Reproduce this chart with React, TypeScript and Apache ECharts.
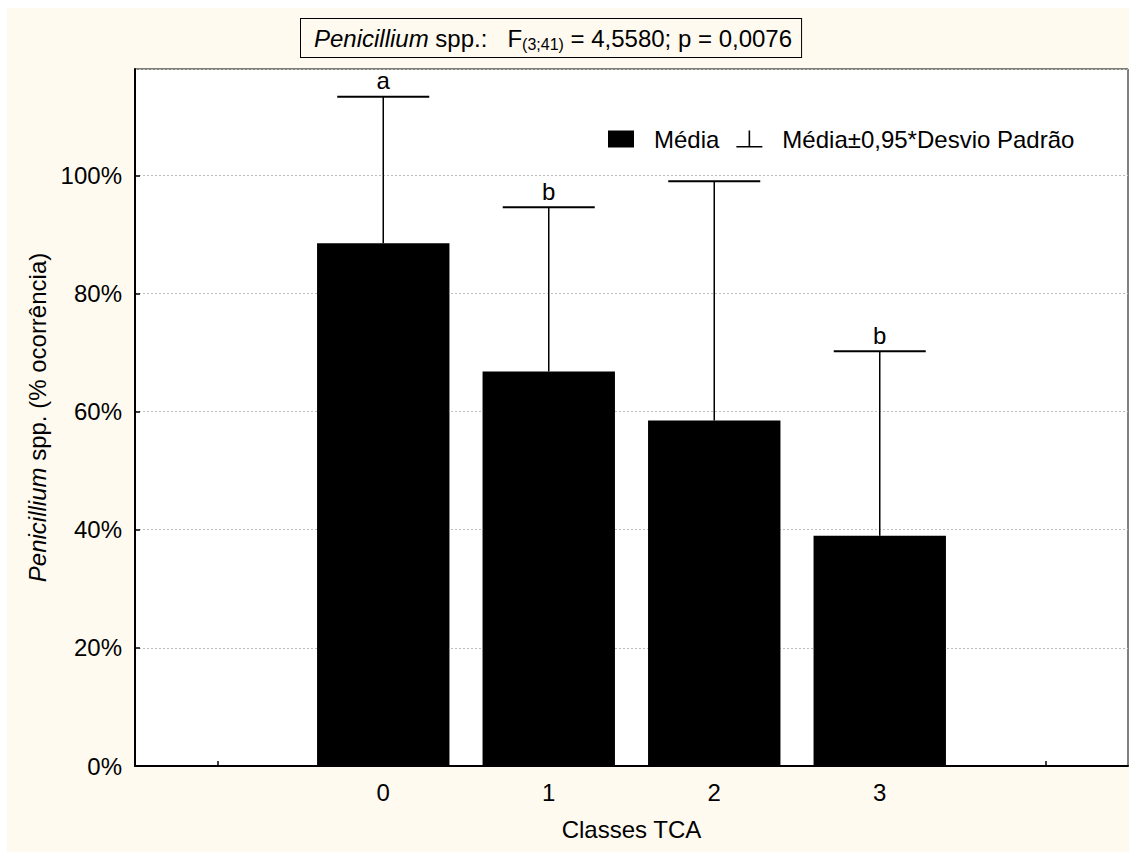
import React, { useEffect, useRef } from "react";
import * as echarts from "echarts";

const classes = ["0", "1", "2", "3"];
const means = [88.5, 66.8, 58.5, 39.0];
const upperLimits = [113.3, 94.6, 99.0, 70.2];
const letters = ["a", "b", "", "b"];
const yMax = 118;
const yInterval = 20;

const FONT = 'Arial, "Liberation Sans", sans-serif';
const FS = 24;

export default function App() {
  const ref = useRef<HTMLDivElement>(null);

  useEffect(() => {
    document.body.style.overflow = "hidden";
    const chart = echarts.init(ref.current!, null, { renderer: "svg" });

    const axisCats = ["", ...classes, ""];
    const barData: (number | null)[] = [null, ...means, null];
    const errData = classes.map((c, i) => [i + 1, means[i], upperLimits[i]]);

    const option: any = {
      animation: false,
      backgroundColor: "#FFFAF0",
      textStyle: { fontFamily: FONT, color: "#000" },
      grid: {
        left: 128,
        right: 1,
        top: 61,
        bottom: 86,
        show: true,
        backgroundColor: "#ffffff",
        borderColor: "#000",
        borderWidth: 1,
      },
      legend: {
        left: 596,
        top: 114,
        itemGap: 17,
        itemWidth: 26,
        itemHeight: 17,
        textStyle: { fontSize: FS, color: "#000", fontFamily: FONT, padding: [0, 0, 0, 15] },
        data: [
          { name: "Média", icon: "rect", itemStyle: { color: "#000" } },
          {
            name: "Média±0,95*Desvio Padrão",
            icon: "path://M12.2,0H13.8V15.5H12.2Z M0,15.5H26V17H0Z",
            itemStyle: { color: "#000" },
          },
        ],
      },
      xAxis: {
        type: "category",
        data: axisCats,
        boundaryGap: true,
        name: "Classes TCA",
        nameLocation: "middle",
        nameGap: 51,
        nameTextStyle: { fontSize: FS, color: "#000", fontFamily: FONT },
        axisLine: { show: true, lineStyle: { color: "#000", width: 2 } },
        axisTick: {
          show: true,
          alignWithLabel: true,
          inside: true,
          length: 5,
          interval: 0,
          lineStyle: { color: "#000", width: 1.5 },
        },
        axisLabel: { fontSize: FS, color: "#000", margin: 14, interval: 0, fontFamily: FONT },
        splitLine: { show: false },
      },
      yAxis: {
        type: "value",
        min: 0,
        max: yMax,
        interval: yInterval,
        name: "{it|Penicillium} spp. (% ocorrência)",
        nameLocation: "middle",
        nameRotate: 90,
        nameGap: 86,
        nameTextStyle: {
          fontSize: FS,
          color: "#000",
          fontFamily: FONT,
          rich: { it: { fontStyle: "italic", fontSize: FS, color: "#000", fontFamily: FONT } },
        },
        axisLine: { show: true, lineStyle: { color: "#000", width: 2 } },
        axisTick: { show: true, inside: true, length: 5, lineStyle: { color: "#000", width: 1.5 } },
        axisLabel: {
          fontSize: FS,
          color: "#000",
          margin: 13,
          fontFamily: FONT,
          showMaxLabel: false,
          formatter: (v: number) => (v % yInterval === 0 ? v + "%" : ""),
        },
        splitLine: { show: true, lineStyle: { color: "#bdbdbd", type: [2, 2], width: 1 } },
      },
      graphic: [
        {
          type: "text",
          left: 293,
          top: 10,
          z: 100,
          style: {
            text: "{it|Penicillium}{n| spp.:   F}{sub|(3;41)}{n| = 4,5580; p = 0,0076}",
            fill: "#000",
            font: `${FS}px ${FONT}`,
            backgroundColor: "#FFFAF0",
            borderColor: "#000",
            borderWidth: 1,
            padding: [5, 9, 5, 13],
            rich: {
              it: { fontStyle: "italic", fontSize: FS, lineHeight: 28, fontFamily: FONT, fill: "#000" },
              n: { fontSize: FS, lineHeight: 28, fontFamily: FONT, fill: "#000" },
              sub: { fontSize: 16, lineHeight: 14, verticalAlign: "bottom", fontFamily: FONT, fill: "#000" },
            },
          },
        },
      ],
      series: [
        {
          name: "Média",
          type: "bar",
          data: barData,
          barWidth: "80%",
          itemStyle: { color: "#000" },
          z: 2,
        },
        {
          name: "Média±0,95*Desvio Padrão",
          type: "custom",
          data: errData,
          z: 3,
          itemStyle: { color: "#000" },
          encode: { x: 0, y: [1, 2] },
          renderItem: (params: any, api: any) => {
            const x = api.value(0);
            const m = api.value(1);
            const u = api.value(2);
            const p0 = api.coord([x, m]);
            const p1 = api.coord([x, u]);
            const bw = api.size([1, 0])[0];
            const half = bw * 0.278;
            const letter = letters[params.dataIndex];
            return {
              type: "group",
              children: [
                {
                  type: "line",
                  shape: { x1: p0[0], y1: p0[1], x2: p1[0], y2: p1[1] },
                  style: { stroke: "#000", lineWidth: 1.5 },
                },
                {
                  type: "line",
                  shape: { x1: p1[0] - half, y1: p1[1], x2: p1[0] + half, y2: p1[1] },
                  style: { stroke: "#000", lineWidth: 2 },
                },
                {
                  type: "text",
                  x: p1[0],
                  y: p1[1] - 4,
                  style: {
                    text: letter,
                    fill: "#000",
                    font: `${FS}px ${FONT}`,
                    textAlign: "center",
                    textVerticalAlign: "bottom",
                  },
                },
              ],
            };
          },
        },
      ],
    };

    chart.setOption(option);
    return () => chart.dispose();
  }, []);

  return (
    <div
      ref={ref}
      style={{ position: "absolute", left: 7, top: 8, width: 1122, height: 844 }}
    />
  );
}
